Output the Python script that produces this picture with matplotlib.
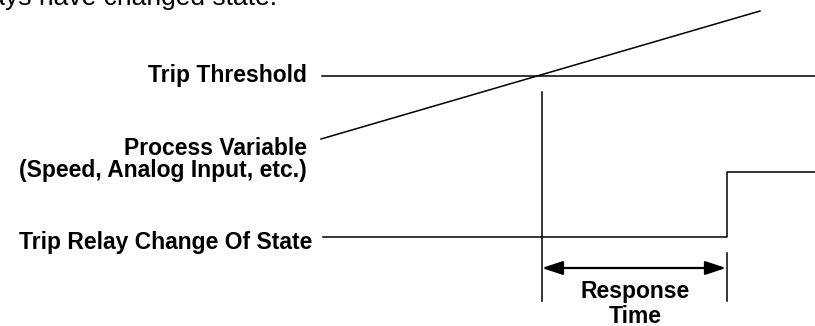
import matplotlib.pyplot as plt

# timing diagram, everything in image pixel coordinates (y grows downward)
threshold_x = [322, 815]
threshold_y = [76, 76]

pv_x = [321, 760]
pv_y = [139, 11]

relay_x = [323, 727, 727, 815]
relay_y = [237, 237, 172, 172]

trip_x = [541.5, 541.5]
trip_y = [92, 301]

end_x = [727, 727]
end_y = [253, 301]

arrow_start = 542
arrow_end = 726
arrow_y = 268

labels = ["Trip Threshold", "Process Variable", "(Speed, Analog Input, etc.)",
          "Trip Relay Change Of State"]
label_right = [307, 307, 307, 312]
label_base = [82, 155, 177, 249]

resp_lines = ["Response", "Time"]
resp_base = [298, 323]

plt.rcParams['font.family'] = ['Liberation Sans', 'DejaVu Sans']

fig = plt.figure(figsize=(8.15, 3.26), dpi=100)
ax = fig.add_axes([0, 0, 1, 1])
ax.set_xlim(0, 815)
ax.set_ylim(326, 0)
ax.axis("off")

lw = 1.1
ax.plot(threshold_x, threshold_y, color="black", lw=lw)
ax.plot(pv_x, pv_y, color="black", lw=lw)
ax.plot(relay_x, relay_y, color="black", lw=lw)
ax.plot(trip_x, trip_y, color="black", lw=lw)
ax.plot(end_x, end_y, color="black", lw=lw)

ax.annotate("", xy=(arrow_end, arrow_y), xytext=(arrow_start, arrow_y),
            arrowprops=dict(arrowstyle="<|-|>,head_length=0.9,head_width=0.3",
                            color="black", lw=1.6, shrinkA=0, shrinkB=0,
                            mutation_scale=14))

for txt, xr, yb in zip(labels, label_right, label_base):
    ax.text(xr, yb, txt, ha="right", va="baseline", fontsize=16.5,
            fontweight="bold", color="black")

for txt, yb in zip(resp_lines, resp_base):
    ax.text(635, yb, txt, ha="center", va="baseline", fontsize=16.5,
            fontweight="bold", color="black")

# caption from the page above, mostly cut off by the image edge
ax.text(277, 5, "relays have changed state.", ha="right", va="baseline",
        fontsize=19, color="black")

fig.savefig("out.png", dpi=100)
